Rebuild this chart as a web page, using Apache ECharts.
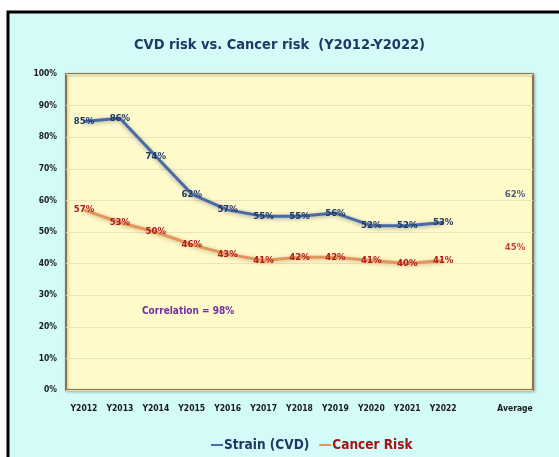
<!DOCTYPE html>
<html>
<head>
<meta charset="utf-8">
<script src="https://cdn.jsdelivr.net/npm/echarts@6/dist/echarts.min.js"></script>
<style>
html,body{margin:0;padding:0;background:#ffffff;}
#c{width:559px;height:457px;}
</style>
</head>
<body>
<div id="c"></div>
<script>
var categories = ['Y2012','Y2013','Y2014','Y2015','Y2016','Y2017','Y2018','Y2019','Y2020','Y2021','Y2022','','Average'];
var cvd = [85,86,74,62,57,55,55,56,52,52,53];
var cancer = [57,53,50,46,43,41,42,42,41,40,41];
var cvdAverage = 62;
var cancerAverage = 45;
var yTicks = [0,10,20,30,40,50,60,70,80,90,100];

var FONT = '"DejaVu Sans Condensed","Liberation Sans Narrow",sans-serif';
var chart = echarts.init(document.getElementById('c'));

function avgSeries(v){
  var arr = categories.map(function(){return null;});
  arr[categories.length-1] = v;
  return arr;
}

var lblCommon = {show:true, position:'inside', fontFamily:FONT, fontWeight:'bold', fontSize:9.5,
  formatter:function(p){return p.value + '%';}};

chart.setOption({
  backgroundColor:'#ffffff',
  graphic:[
    {type:'rect', z:-10, shape:{x:8, y:12, width:580, height:480},
     style:{fill:'#d3fbf8', stroke:'#000000', lineWidth:3}},
    {type:'text', left:142, top:306, z:20,
     style:{text:'Correlation = 98%', fill:'#7030a0', font:'bold 10px ' + FONT}}
  ],
  title:{
    text:'CVD risk vs. Cancer risk  (Y2012-Y2022)',
    left:'center', top:33,
    textStyle:{color:'#1f3864', fontSize:14.5, fontWeight:'bold', fontFamily:FONT}
  },
  legend:{
    bottom:0, left:206, itemGap:10, itemWidth:12, itemHeight:2, icon:'rect',
    selectedMode:false,
    textStyle:{fontFamily:FONT, fontWeight:'bold', fontSize:13.5, padding:[0,0,0,-4]},
    data:[
      {name:'Strain (CVD)', itemStyle:{color:'#4a6aa6'}, textStyle:{color:'#1f3864'}},
      {name:'Cancer Risk', itemStyle:{color:'#e0975e'}, textStyle:{color:'#a31515'}}
    ]
  },
  grid:{left:66, right:26, top:74, bottom:67, show:true, backgroundColor:'#fffaca',
        borderColor:'#8f7248', borderWidth:2,
        shadowColor:'rgba(0,0,0,0.25)', shadowBlur:3, shadowOffsetX:1, shadowOffsetY:1},
  xAxis:{
    type:'category', data:categories, boundaryGap:true,
    axisLine:{show:false}, axisTick:{show:false},
    axisLabel:{interval:0, color:'#1a1a1a', fontFamily:FONT, fontWeight:'bold', fontSize:8.5, margin:14}
  },
  yAxis:{
    type:'value', min:0, max:100, interval:10,
    axisLine:{show:false}, axisTick:{show:false},
    splitLine:{lineStyle:{color:'#ece4b8', width:1}},
    axisLabel:{color:'#1a1a1a', fontFamily:FONT, fontWeight:'bold', fontSize:8.5, margin:9,
      formatter:function(v){return v + '%';}}
  },
  series:[
    {name:'Strain (CVD)', type:'line', data:cvd, symbol:'circle', symbolSize:0,
     itemStyle:{color:'#4a6aa6'},
     lineStyle:{color:'#4a6aa6', width:3, shadowColor:'rgba(40,60,110,0.45)', shadowBlur:4, shadowOffsetY:1},
     label:Object.assign({}, lblCommon, {color:'#1f3864'}), z:3},
    {name:'Cancer Risk', type:'line', data:cancer, symbol:'circle', symbolSize:0,
     itemStyle:{color:'#e0975e'},
     lineStyle:{color:'#e0975e', width:3, shadowColor:'rgba(150,80,30,0.4)', shadowBlur:4, shadowOffsetY:1},
     label:Object.assign({}, lblCommon, {color:'#b01a1a'}), z:3},
    {name:'CVD Average', type:'scatter', data:avgSeries(cvdAverage), symbolSize:0,
     itemStyle:{color:'#1f3864'},
     label:Object.assign({}, lblCommon, {color:'#1f3864'})},
    {name:'Cancer Average', type:'scatter', data:avgSeries(cancerAverage), symbolSize:0,
     itemStyle:{color:'#b01a1a'},
     label:Object.assign({}, lblCommon, {color:'#b01a1a'})}
  ]
});
</script>
</body>
</html>
